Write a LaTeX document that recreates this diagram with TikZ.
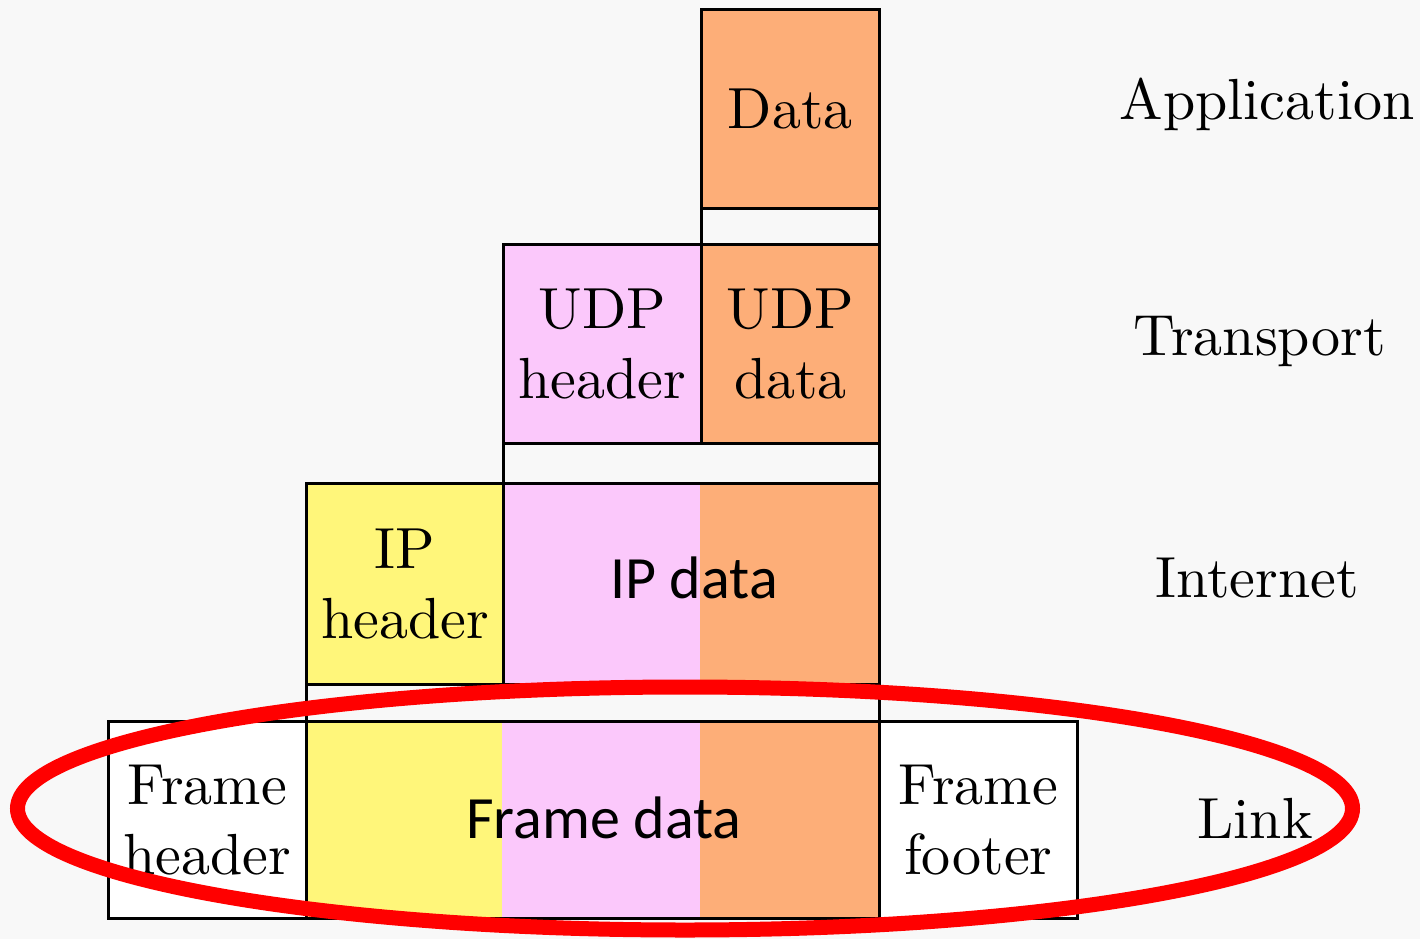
\documentclass[tikz,border=0pt]{standalone}
\usepackage{fontspec}
\setmainfont{lmroman10-regular}[Extension=.otf]
\newfontfamily\calfont{Carlito}
\definecolor{pagebg}{HTML}{F8F8F8}
\definecolor{dataorange}{HTML}{FDAE78}
\definecolor{udppink}{HTML}{FBC8FB}
\definecolor{ipyellow}{HTML}{FFF67A}
\definecolor{ringred}{HTML}{FF0000}
\tikzset{
  cell/.style={draw=black, line width=2.8pt, inner sep=0pt, anchor=north west,
    align=center, font=\fontsize{58pt}{70pt}\selectfont},
  gap/.style={cell, fill=pagebg},
  sanstext/.style={inner sep=0pt, font=\calfont\fontsize{60pt}{72pt}\selectfont},
  layer/.style={inner sep=0pt, anchor=base, font=\fontsize{58pt}{70pt}\selectfont},
}
\begin{document}
\begin{tikzpicture}[x=1pt,y=-1pt]
  % canvas
  \fill[pagebg] (0,0) rectangle (1420,939);
  \useasboundingbox (0,0) rectangle (1420,939);

  % application layer
  \node[cell, fill=dataorange, minimum width=178pt, minimum height=199pt] (data) at (700,8) {Data};
  \node[gap, minimum width=178pt, minimum height=36pt] (gapA) at (700,207) {};

  % transport layer
  \node[cell, fill=udppink, minimum width=198pt, minimum height=199pt] (udph) at (502,243) {UDP\\header};
  \node[cell, fill=dataorange, minimum width=178pt, minimum height=199pt] (udpd) at (700,243) {UDP\\data};
  \node[gap, minimum width=376pt, minimum height=40pt] (gapT) at (502,442) {};

  % internet layer
  \node[cell, fill=ipyellow, minimum width=197pt, minimum height=201pt] (iph) at (305,482) {IP\\header};
  \fill[udppink] (502,482) rectangle (700,683);
  \fill[dataorange] (700,482) rectangle (878,683);
  \node[cell, minimum width=376pt, minimum height=201pt] (ipd) at (502,482) {};
  \node[sanstext] (ipdtext) at (694,578) {IP data};
  \node[gap, minimum width=573pt, minimum height=37pt] (gapI) at (305,683) {};

  % link layer
  \node[cell, fill=white, minimum width=198pt, minimum height=197pt] (frh) at (107,720) {Frame\\header};
  \fill[ipyellow] (305,720) rectangle (502,917);
  \fill[udppink] (502,720) rectangle (700,917);
  \fill[dataorange] (700,720) rectangle (878,917);
  \node[cell, minimum width=573pt, minimum height=197pt] (frd) at (305,720) {};
  \node[sanstext] (frdtext) at (604,818) {Frame data};
  \node[cell, fill=white, minimum width=198pt, minimum height=197pt] (frf) at (878,720) {Frame\\footer};

  % layer names
  \node[layer] (lapp) at (1267,120) {Application};
  \node[layer] (ltra) at (1260,355) {Transport};
  \node[layer] (lint) at (1257,597) {Internet};
  \node[layer] (llnk) at (1255,838) {Link};

  % highlight ring around the link layer
  \draw[ringred, line width=15pt] (685,808.5) ellipse [x radius=667.5pt, y radius=121.5pt];
\end{tikzpicture}
\end{document}
